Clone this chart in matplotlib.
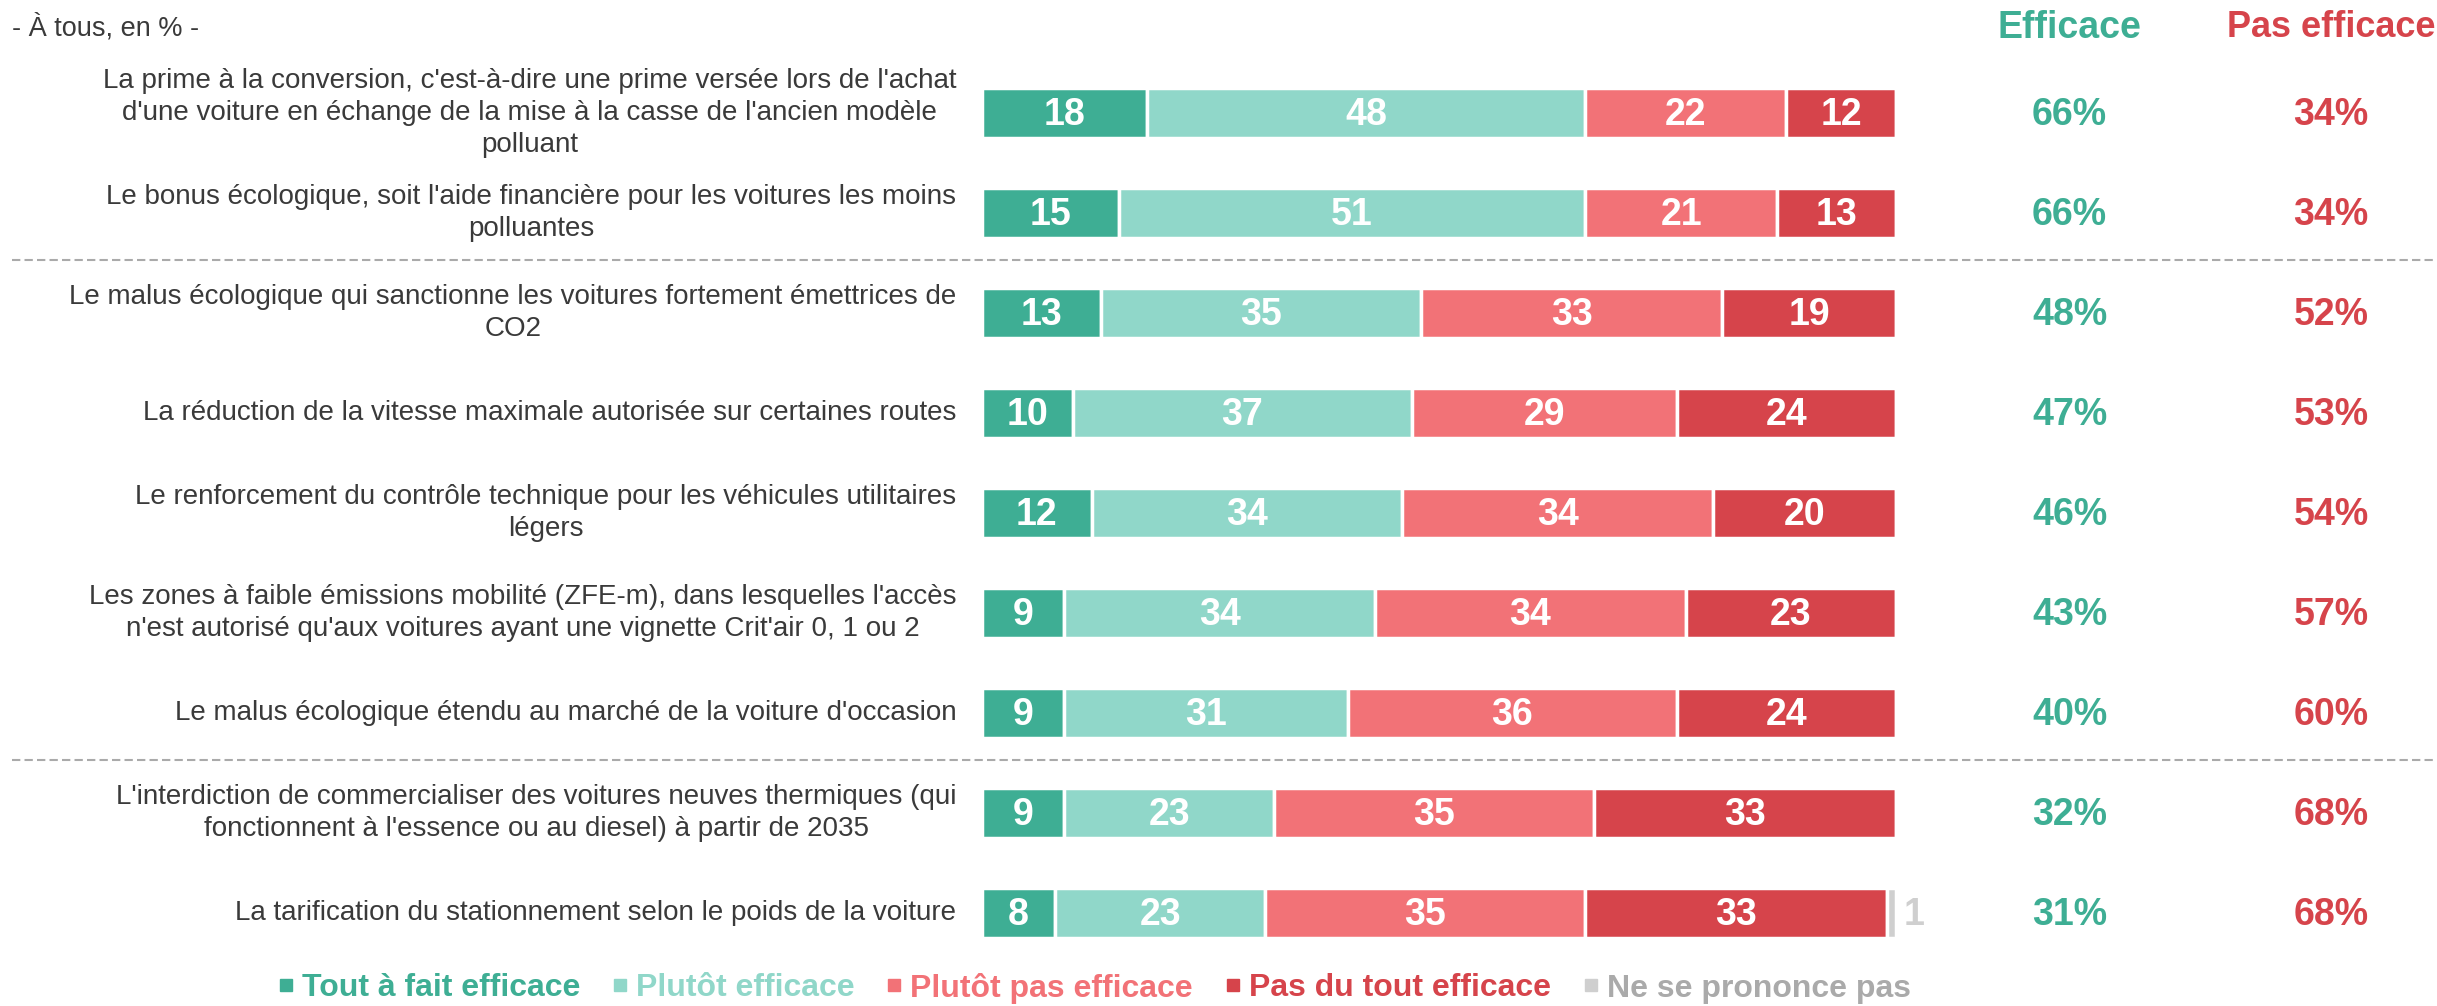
import numpy as np
import matplotlib.pyplot as plt
import matplotlib.transforms as mtransforms
from matplotlib.lines import Line2D

plt.rcParams['font.family'] = ['Liberation Sans', 'DejaVu Sans']

# donnees
items = [
    "La prime à la conversion, c'est-à-dire une prime versée lors de l'achat\nd'une voiture en échange de la mise à la casse de l'ancien modèle\npolluant",
    "Le bonus écologique, soit l'aide financière pour les voitures les moins\npolluantes",
    "Le malus écologique qui sanctionne les voitures fortement émettrices de\nCO2",
    "La réduction de la vitesse maximale autorisée sur certaines routes",
    "Le renforcement du contrôle technique pour les véhicules utilitaires\nlégers",
    "Les zones à faible émissions mobilité (ZFE-m), dans lesquelles l'accès\nn'est autorisé qu'aux voitures ayant une vignette Crit'air 0, 1 ou 2",
    "Le malus écologique étendu au marché de la voiture d'occasion",
    "L'interdiction de commercialiser des voitures neuves thermiques (qui\nfonctionnent à l'essence ou au diesel) à partir de 2035",
    "La tarification du stationnement selon le poids de la voiture",
]
tout_a_fait = [18, 15, 13, 10, 12, 9, 9, 9, 8]
plutot = [48, 51, 35, 37, 34, 34, 31, 23, 23]
plutot_pas = [22, 21, 33, 29, 34, 34, 36, 35, 35]
pas_du_tout = [12, 13, 19, 24, 20, 23, 24, 33, 33]
nsp = [0, 0, 0, 0, 0, 0, 0, 0, 1]
efficace = [66, 66, 48, 47, 46, 43, 40, 32, 31]
pas_efficace = [34, 34, 52, 53, 54, 57, 60, 68, 68]

series_names = ["Tout à fait efficace", "Plutôt efficace", "Plutôt pas efficace",
                "Pas du tout efficace", "Ne se prononce pas"]
colors = ["#3EAE94", "#90D7C9", "#F27277", "#D6444B", "#CFCFCF"]
legend_text_colors = ["#3EAE94", "#90D7C9", "#F27277", "#D6444B", "#AAAAAA"]

fig = plt.figure(figsize=(24.37, 10.06), dpi=100)
ax = fig.add_axes([982 / 2437, 43 / 1006, (1896 - 982) / 2437, 940 / 1006])
ax.set_xlim(0, 100)
ax.set_ylim(8.5, -0.9)
ax.axis('off')

y = np.arange(len(items))
all_series = [tout_a_fait, plutot, plutot_pas, pas_du_tout, nsp]
left = np.zeros(len(items))
for k, vals in enumerate(all_series):
    vals = np.array(vals, dtype=float)
    ax.barh(y, vals, left=left, height=0.5, color=colors[k],
            edgecolor='white', linewidth=2.5)
    for i, v in enumerate(vals):
        if v <= 0:
            continue
        if k < 4:
            ax.text(left[i] + v / 2, y[i] + 0.02, f"{int(v)}", ha='center', va='center',
                    color='white', fontsize=27, fontweight='bold')
        else:
            ax.text(left[i] + v + 0.8, y[i] + 0.02, f"{int(v)}", ha='left', va='center',
                    color='#CFCFCF', fontsize=27, fontweight='bold')
    left += vals

# libelles
for i, lab in enumerate(items):
    ax.text(-2.8, y[i], lab, ha='right', va='center', multialignment='center',
            fontsize=20, color='#3A3A3A', linespacing=1.3)

# colonnes efficace / pas efficace
x_eff, x_pas = 119.0, 147.6
ax.text(x_eff, -0.85, "Efficace", ha='center', va='center', fontsize=27,
        fontweight='bold', color=colors[0], clip_on=False)
ax.text(x_pas, -0.85, "Pas efficace", ha='center', va='center', fontsize=26,
        fontweight='bold', color=colors[3], clip_on=False)
for i in range(len(items)):
    ax.text(x_eff, y[i] + 0.02, f"{efficace[i]}%", ha='center', va='center', fontsize=27,
            fontweight='bold', color=colors[0])
    ax.text(x_pas, y[i] + 0.02, f"{pas_efficace[i]}%", ha='center', va='center', fontsize=27,
            fontweight='bold', color=colors[3])

# separateurs
trans = mtransforms.blended_transform_factory(fig.transFigure, ax.transData)
for ys in [1.47, 6.47]:
    ax.add_line(Line2D([12 / 2437, 1.0], [ys, ys], transform=trans, color='#AAAAAA',
                       linestyle=(0, (4, 2)), linewidth=1.5, clip_on=False))

fig.text(12 / 2437, 1 - 28 / 1006, "- À tous, en % -", ha='left', va='center',
         fontsize=19.5, color='#3A3A3A')

# legende
handles = [Line2D([], [], marker='s', linestyle='none', markersize=8,
                  color=c) for c in colors]
leg = fig.legend(handles, series_names, loc='center', bbox_to_anchor=(1095 / 2437, 1 - 988 / 1006),
                 ncol=5, frameon=False, handlelength=0.4, handletextpad=0.3,
                 columnspacing=1.05, prop={'size': 23, 'weight': 'bold'})
for t, c in zip(leg.get_texts(), legend_text_colors):
    t.set_color(c)

fig.savefig("out.png", dpi=100)
